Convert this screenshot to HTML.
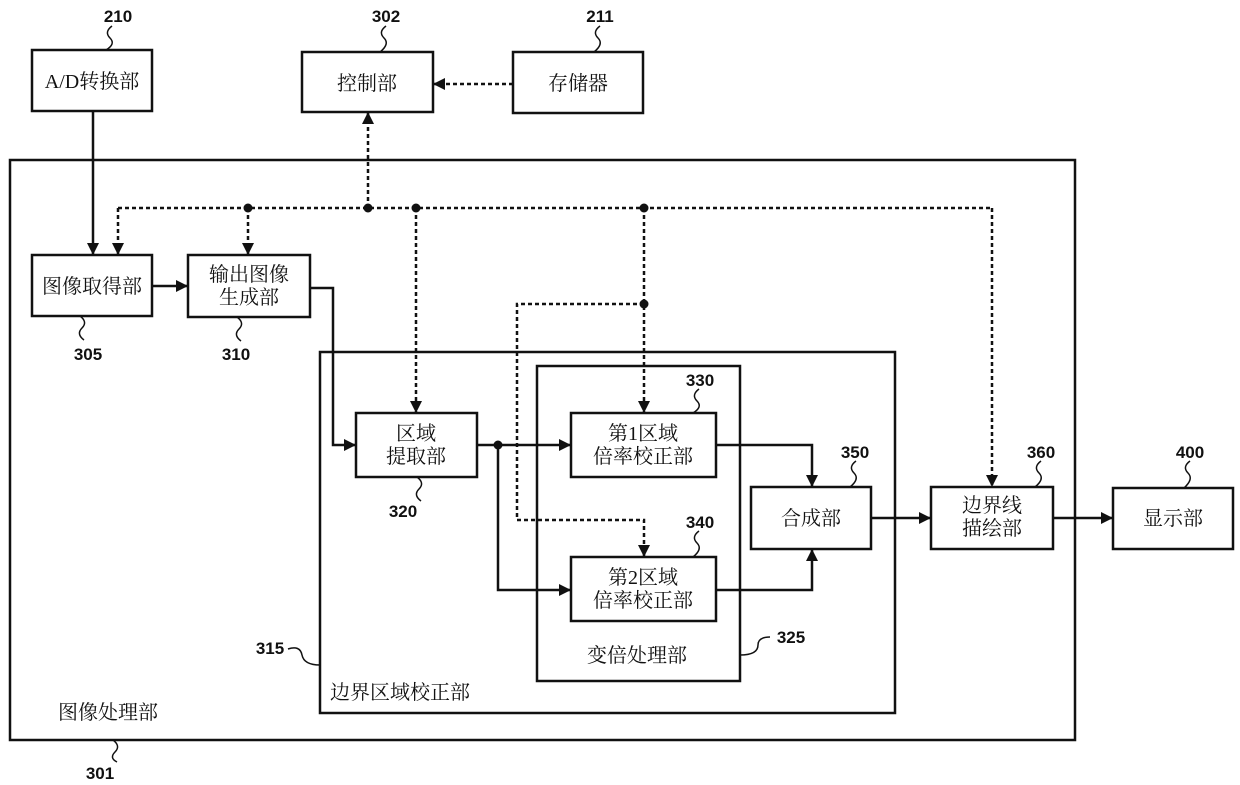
<!DOCTYPE html>
<html><head><meta charset="utf-8"><style>
html,body{margin:0;padding:0;background:#fff;}
svg{display:block}
.t{font-family:"Liberation Serif","Noto Serif CJK SC",serif;font-size:20px;fill:#111;}
.n{font-family:"Liberation Sans","Noto Sans CJK SC",sans-serif;font-size:17px;font-weight:bold;fill:#111;}
</style></head><body>
<svg width="1240" height="785" viewBox="0 0 1240 785" xmlns="http://www.w3.org/2000/svg">
<defs>
<marker id="a" markerWidth="12" markerHeight="12" refX="11" refY="6" orient="auto" markerUnits="userSpaceOnUse"><path d="M0,0 L12,6 L0,12 z" fill="#111"/></marker>
</defs>
<g fill="none" stroke="#111" stroke-width="2.5">
<rect x="32" y="50" width="120" height="61"/>
<rect x="302" y="52" width="131" height="60"/>
<rect x="513" y="52" width="130" height="61"/>
<rect x="10" y="160" width="1065" height="580"/>
<rect x="32" y="255" width="120" height="61"/>
<rect x="188" y="255" width="122" height="62"/>
<rect x="320" y="352" width="575" height="361"/>
<rect x="537" y="366" width="203" height="315"/>
<rect x="356" y="413" width="121" height="64"/>
<rect x="571" y="413" width="145" height="64"/>
<rect x="571" y="557" width="145" height="64"/>
<rect x="751" y="487" width="120" height="62"/>
<rect x="931" y="487" width="122" height="62"/>
<rect x="1113" y="488" width="120" height="61"/>
<path d="M93,111 V254" marker-end="url(#a)"/>
<path d="M152,286 H187" marker-end="url(#a)"/>
<path d="M310,288 H333 V445 H355" marker-end="url(#a)"/>
<path d="M477,445 H570" marker-end="url(#a)"/>
<path d="M498,445 V590 H570" marker-end="url(#a)"/>
<path d="M716,445 H812 V486" marker-end="url(#a)"/>
<path d="M716,590 H812 V550" marker-end="url(#a)"/>
<path d="M871,518 H930" marker-end="url(#a)"/>
<path d="M1053,518 H1112" marker-end="url(#a)"/>
</g>
<g fill="none" stroke="#111" stroke-width="2.5" stroke-dasharray="4,3">
<path d="M513,84 H434" marker-end="url(#a)"/>
<path d="M368,208 V113" marker-end="url(#a)"/>
<path d="M118,208 H992"/>
<path d="M118,208 V254" marker-end="url(#a)"/>
<path d="M248,208 V254" marker-end="url(#a)"/>
<path d="M416,208 V412" marker-end="url(#a)"/>
<path d="M644,208 V412" marker-end="url(#a)"/>
<path d="M644,304 H517 V520 H644 V556" marker-end="url(#a)"/>
<path d="M992,208 V486" marker-end="url(#a)"/>
</g>
<g fill="#111">
<circle cx="248" cy="208" r="4.5"/><circle cx="368" cy="208" r="4.5"/><circle cx="416" cy="208" r="4.5"/><circle cx="644" cy="208" r="4.5"/><circle cx="644" cy="304" r="4.5"/><circle cx="498" cy="445" r="4.5"/>
</g>
<g fill="none" stroke="#111" stroke-width="1.5">
<path d="M112,26 q-8,6 -2,12 q6,6 -4,12"/>
<path d="M386,26 q-8,6 -2,12 q6,6 -4,14"/>
<path d="M600,26 q-8,6 -2,12 q6,6 -4,14"/>
<path d="M80,316 q8,6 2,12 q-6,6 2,12"/>
<path d="M237,317 q8,6 2,12 q-6,6 2,12"/>
<path d="M417,477 q8,6 2,12 q-6,6 2,12"/>
<path d="M699,389 q-8,6 -2,12 q6,6 -4,12"/>
<path d="M699,531 q-8,6 -2,12 q6,6 -4,14"/>
<path d="M856,461 q-8,6 -2,12 q6,6 -4,14"/>
<path d="M1041,461 q-8,6 -2,12 q6,6 -4,14"/>
<path d="M1190,461 q-8,6 -2,12 q6,6 -4,15"/>
<path d="M288,649 q12,-4 14,6 q2,10 18,10"/>
<path d="M770,637 q-12,0 -12,8 q0,10 -18,10"/>
<path d="M113,740 q8,6 2,12 q-6,6 2,10"/>
</g>
<g class="n" text-anchor="middle">
<text x="118" y="22">210</text><text x="386" y="22">302</text><text x="600" y="22">211</text>
<text x="88" y="360">305</text><text x="236" y="360">310</text><text x="403" y="517">320</text>
<text x="700" y="386">330</text><text x="700" y="528">340</text><text x="855" y="458">350</text>
<text x="1041" y="458">360</text><text x="1190" y="458">400</text>
<text x="270" y="654">315</text><text x="791" y="643">325</text><text x="100" y="779">301</text>
</g>
<g class="t" text-anchor="middle">
<text x="92" y="88">A/D转换部</text>
<text x="367" y="90">控制部</text>
<text x="578" y="90">存储器</text>
<text x="92" y="293">图像取得部</text>
<text x="249" y="281">输出图像</text><text x="249" y="304">生成部</text>
<text x="416" y="440">区域</text><text x="416" y="463">提取部</text>
<text x="643" y="440">第1区域</text><text x="643" y="463">倍率校正部</text>
<text x="643" y="584">第2区域</text><text x="643" y="607">倍率校正部</text>
<text x="811" y="525">合成部</text>
<text x="992" y="512">边界线</text><text x="992" y="535">描绘部</text>
<text x="1173" y="525">显示部</text>
<text x="637" y="662">变倍处理部</text>
</g>
<g class="t">
<text x="330" y="699">边界区域校正部</text>
<text x="58" y="719">图像处理部</text>
</g>
</svg>
</body></html>
